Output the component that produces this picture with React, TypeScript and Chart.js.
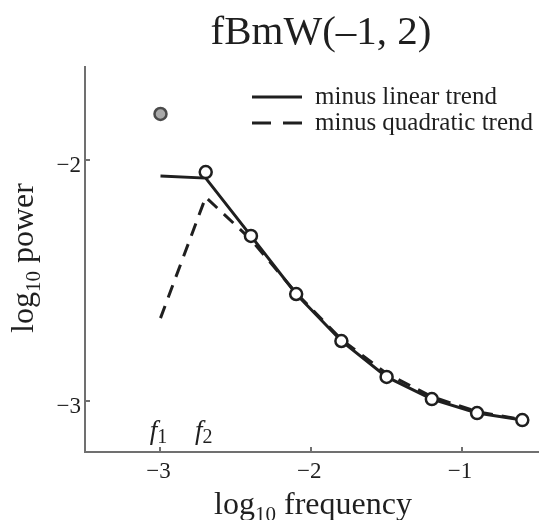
import React, { useEffect, useRef } from "react";
import { Chart, registerables } from "chart.js";

Chart.register(...registerables);

// ---- data ----
const freqs = [-3, -2.7, -2.4, -2.1, -1.8, -1.5, -1.2, -0.9, -0.6];
const observedFreqs = [-2.7, -2.4, -2.1, -1.8, -1.5, -1.2, -0.9, -0.6];
const observedPower = [-2.05, -2.315, -2.556, -2.751, -2.9, -2.992, -3.05, -3.079];
const excludedFreq = [-3];
const excludedPower = [-1.809];
const linearTrend = [-2.066, -2.075, -2.315, -2.556, -2.751, -2.9, -2.992, -3.05, -3.079];
const quadraticTrend = [-2.656, -2.154, -2.33, -2.552, -2.745, -2.886, -2.982, -3.044, -3.077];
const xTicks = [-3, -2, -1];
const yTicks = [-2, -3];
const markerFreqs = [-3, -2.7];
const markerSubs = ["1", "2"];
const titleText = "fBmW(–1, 2)";
const legendLabels = ["minus linear trend", "minus quadratic trend"];

const SERIF = '"Liberation Serif", "DejaVu Serif", serif';
const INK = "#1f1f1f";
const AXIS = "#707070";

type Part = { t: string; size: number; dy?: number; italic?: boolean };

function partsWidth(ctx: CanvasRenderingContext2D, parts: Part[]) {
  let w = 0;
  for (const p of parts) {
    ctx.font = `${p.italic ? "italic " : ""}${p.size}px ${SERIF}`;
    w += ctx.measureText(p.t).width;
  }
  return w;
}

function drawParts(ctx: CanvasRenderingContext2D, parts: Part[], x: number, y: number, center: boolean) {
  let cx = center ? x - partsWidth(ctx, parts) / 2 : x;
  ctx.textAlign = "left";
  ctx.textBaseline = "alphabetic";
  for (const p of parts) {
    ctx.font = `${p.italic ? "italic " : ""}${p.size}px ${SERIF}`;
    ctx.fillText(p.t, cx, y + (p.dy || 0));
    cx += ctx.measureText(p.t).width;
  }
}

const decorPlugin = {
  id: "decor",
  afterDraw(chart: any) {
    const ctx: CanvasRenderingContext2D = chart.ctx;
    const xs = chart.scales.x;
    const ys = chart.scales.y;
    const area = chart.chartArea;
    ctx.save();
    // ticks (inward)
    ctx.strokeStyle = AXIS;
    ctx.lineWidth = 2;
    for (const v of xTicks) {
      const px = Math.round(xs.getPixelForValue(v));
      ctx.beginPath();
      ctx.moveTo(px, area.bottom);
      ctx.lineTo(px, area.bottom - 5);
      ctx.stroke();
    }
    for (const v of yTicks) {
      const py = Math.round(ys.getPixelForValue(v));
      ctx.beginPath();
      ctx.moveTo(area.left, py);
      ctx.lineTo(area.left + 5, py);
      ctx.stroke();
    }
    // tick labels
    ctx.fillStyle = INK;
    ctx.font = `23px ${SERIF}`;
    ctx.textBaseline = "middle";
    ctx.textAlign = "center";
    for (const v of xTicks) {
      ctx.fillText("−" + Math.abs(v), xs.getPixelForValue(v) - 2, area.bottom + 20);
    }
    ctx.textAlign = "right";
    for (const v of yTicks) {
      ctx.fillText("−" + Math.abs(v), area.left - 4, ys.getPixelForValue(v) + 6);
    }
    // f markers
    markerFreqs.forEach((f, i) => {
      drawParts(
        ctx,
        [
          { t: "f", size: 27, italic: true },
          { t: markerSubs[i], size: 20, dy: 4 },
        ],
        xs.getPixelForValue(f) - 2,
        area.bottom - 13,
        true
      );
    });
    // x axis title
    drawParts(
      ctx,
      [
        { t: "log", size: 32 },
        { t: "10", size: 21, dy: 7 },
        { t: " frequency", size: 32 },
      ],
      313,
      514,
      true
    );
    // y axis title
    ctx.save();
    ctx.translate(33, 258);
    ctx.rotate(-Math.PI / 2);
    drawParts(
      ctx,
      [
        { t: "log", size: 32 },
        { t: "10", size: 21, dy: 7 },
        { t: " power", size: 32 },
      ],
      0,
      0,
      true
    );
    ctx.restore();
    // title
    ctx.font = `41px ${SERIF}`;
    ctx.textAlign = "center";
    ctx.textBaseline = "alphabetic";
    ctx.fillText(titleText, 321, 44);
    // legend
    ctx.strokeStyle = INK;
    ctx.lineWidth = 3;
    ctx.setLineDash([]);
    ctx.beginPath();
    ctx.moveTo(252, 97);
    ctx.lineTo(302, 97);
    ctx.stroke();
    ctx.setLineDash([19, 12]);
    ctx.beginPath();
    ctx.moveTo(252, 123);
    ctx.lineTo(302, 123);
    ctx.stroke();
    ctx.setLineDash([]);
    ctx.font = `25px ${SERIF}`;
    ctx.textAlign = "left";
    ctx.fillText(legendLabels[0], 315, 104);
    ctx.fillText(legendLabels[1], 315, 130);
    ctx.restore();
  },
};

export default function App() {
  const ref = useRef<HTMLCanvasElement | null>(null);
  useEffect(() => {
    if (!ref.current) return;
    const chart = new Chart(ref.current, {
      type: "scatter",
      data: {
        datasets: [
          {
            label: "observed",
            data: observedFreqs.map((x, i) => ({ x, y: observedPower[i] })),
            showLine: false,
            pointRadius: 6,
            pointHoverRadius: 6,
            pointBackgroundColor: "#ffffff",
            pointBorderColor: INK,
            pointBorderWidth: 2.5,
            order: 0,
          },
          {
            label: "excluded",
            data: excludedFreq.map((x, i) => ({ x, y: excludedPower[i] })),
            showLine: false,
            pointRadius: 6,
            pointBackgroundColor: "#a9a9a9",
            pointBorderColor: "#4a4a4a",
            pointBorderWidth: 2.5,
            order: 0,
          },
          {
            label: legendLabels[0],
            data: freqs.map((x, i) => ({ x, y: linearTrend[i] })),
            showLine: true,
            borderColor: INK,
            borderWidth: 3,
            pointRadius: 0,
            order: 1,
          },
          {
            label: legendLabels[1],
            data: freqs.map((x, i) => ({ x, y: quadraticTrend[i] })),
            showLine: true,
            borderColor: INK,
            borderWidth: 3,
            borderDash: [13, 9],
            pointRadius: 0,
            order: 2,
          },
        ],
      },
      options: {
        animation: false,
        responsive: false,
        devicePixelRatio: 1,
        events: [],
        layout: { autoPadding: false, padding: { left: 85, top: 67, right: 0, bottom: 68 } },
        plugins: {
          legend: { display: false },
          title: { display: false },
          tooltip: { enabled: false },
        },
        scales: {
          x: {
            type: "linear",
            min: -3.5008,
            max: -0.4892,
            ticks: { display: false },
            grid: { display: false, drawTicks: false, tickLength: 0 },
            border: { display: true, color: AXIS, width: 2 },
          },
          y: {
            type: "linear",
            min: -3.2116,
            max: -1.614,
            ticks: { display: false },
            grid: { display: false, drawTicks: false, tickLength: 0 },
            border: { display: true, color: AXIS, width: 2 },
          },
        },
      },
      plugins: [decorPlugin],
    });
    return () => chart.destroy();
  }, []);
  return (
    <div style={{ position: "fixed", left: 0, top: 0, width: 539, height: 520, background: "#fff" }}>
      <canvas ref={ref} width={539} height={520} style={{ width: 539, height: 520, display: "block" }} />
    </div>
  );
}
